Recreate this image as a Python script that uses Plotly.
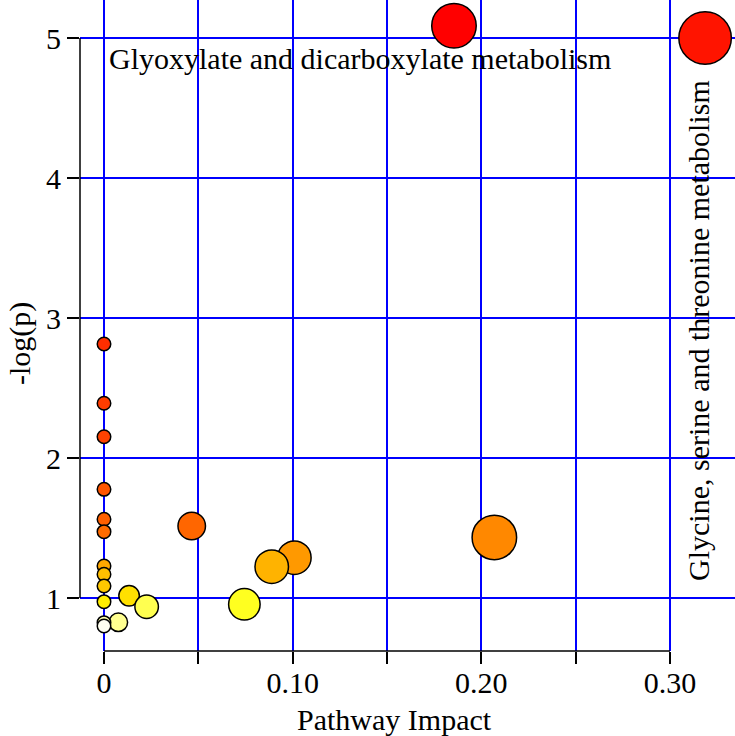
import plotly.graph_objects as go

# Pathway data (x = pathway impact, y = -log(p))
impact = [0.1855, 0.3186, 0.0, 0.0, 0.0, 0.0, 0.0, 0.0465, 0.0, 0.2069, 0.1009,
          0.0, 0.0889, 0.0, 0.0, 0.0133, 0.0, 0.0744, 0.0226, 0.0076, 0.0, 0.0]
neglogp = [5.088, 5.000, 2.814, 2.391, 2.152, 1.776, 1.562, 1.514, 1.474, 1.433, 1.288,
           1.229, 1.224, 1.169, 1.086, 1.016, 0.974, 0.955, 0.938, 0.826, 0.824, 0.800]
diam = [46, 54, 15, 15, 15, 15, 15, 29, 15, 46, 35,
        15, 35, 15, 15, 22, 15, 33, 25, 20, 15, 15]
colors = ["#FF0000", "#FF1400", "#FF2E00", "#FF3D00", "#FF4200", "#FF5500", "#FF5F00",
          "#FF6600", "#FF6B00", "#FF8800", "#FF9900", "#FFA800", "#FFB300", "#FFBE00",
          "#FFC800", "#FFE000", "#FFEE00", "#FFFF20", "#FFFF50", "#FFFF90", "#FFFFB0",
          "#FFFFF0"]

x_tickvals = [0, 0.05, 0.10, 0.15, 0.20, 0.25, 0.30]
x_ticktext = ["0", "", "0.10", "", "0.20", "", "0.30"]
y_tickvals = [1, 2, 3, 4, 5]
y_ticktext = ["1", "2", "3", "4", "5"]

label_top = "Glyoxylate and dicarboxylate metabolism"
label_right = "Glycine, serine and threonine metabolism"

FONT = "Liberation Serif, Times New Roman, serif"
FS = 30

fig = go.Figure()
fig.add_trace(go.Scatter(
    x=impact, y=neglogp, mode="markers",
    marker=dict(size=[d - 1.5 for d in diam], color=colors,
                line=dict(color="black", width=1.5), opacity=1),
    cliponaxis=False, hoverinfo="x+y", showlegend=False,
))

fig.update_layout(
    width=735, height=736,
    margin=dict(l=80, r=0, t=0, b=85, pad=0),
    paper_bgcolor="white", plot_bgcolor="white",
    font=dict(family=FONT, size=FS, color="black"),
    xaxis=dict(range=[-0.012721, 0.334452], tickmode="array",
               tickvals=x_tickvals, ticktext=x_ticktext,
               showgrid=True, gridcolor="#0000FF", gridwidth=1.5,
               zeroline=False, showline=False, automargin=False,
               ticks="outside", ticklen=12, tickwidth=1.5, tickcolor="black",
               ticklabelstandoff=-7,
               tickfont=dict(family=FONT, size=FS)),
    yaxis=dict(range=[0.62143, 5.27143], tickmode="array",
               tickvals=y_tickvals, ticktext=y_ticktext,
               showgrid=True, gridcolor="#0000FF", gridwidth=1.5,
               zeroline=False, showline=False, automargin=False,
               ticks="outside", ticklen=12, tickwidth=1.5, tickcolor="black",
               tickfont=dict(family=FONT, size=FS)),
    shapes=[
        dict(type="line", xref="paper", yref="y", x0=0, x1=0,
             y0=y_tickvals[0], y1=y_tickvals[-1], line=dict(color="black", width=1.5)),
        dict(type="line", xref="x", yref="paper", x0=x_tickvals[0], x1=x_tickvals[-1],
             y0=0, y1=0, line=dict(color="black", width=1.5)),
    ],
    annotations=[
        dict(text=label_top, xref="paper", yref="paper", x=0.0412, y=0.9094,
             xanchor="left", yanchor="middle", showarrow=False,
             font=dict(family=FONT, size=FS)),
        dict(text=label_right, xref="paper", yref="paper", x=0.945, y=0.4931,
             xanchor="center", yanchor="middle", textangle=-90, showarrow=False,
             font=dict(family=FONT, size=FS)),
        dict(text="Pathway Impact", xref="paper", yref="paper", x=0.4794, y=-0.1045,
             xanchor="center", yanchor="middle", showarrow=False,
             font=dict(family=FONT, size=FS)),
        dict(text="-log(p)", xref="paper", yref="paper", x=-0.0916, y=0.4716,
             xanchor="center", yanchor="middle", textangle=-90, showarrow=False,
             font=dict(family=FONT, size=FS)),
    ],
)

fig.write_html("out.html", config={"displayModeBar": False},
               post_script="document.body.style.margin='0';document.body.style.overflow='hidden';")
